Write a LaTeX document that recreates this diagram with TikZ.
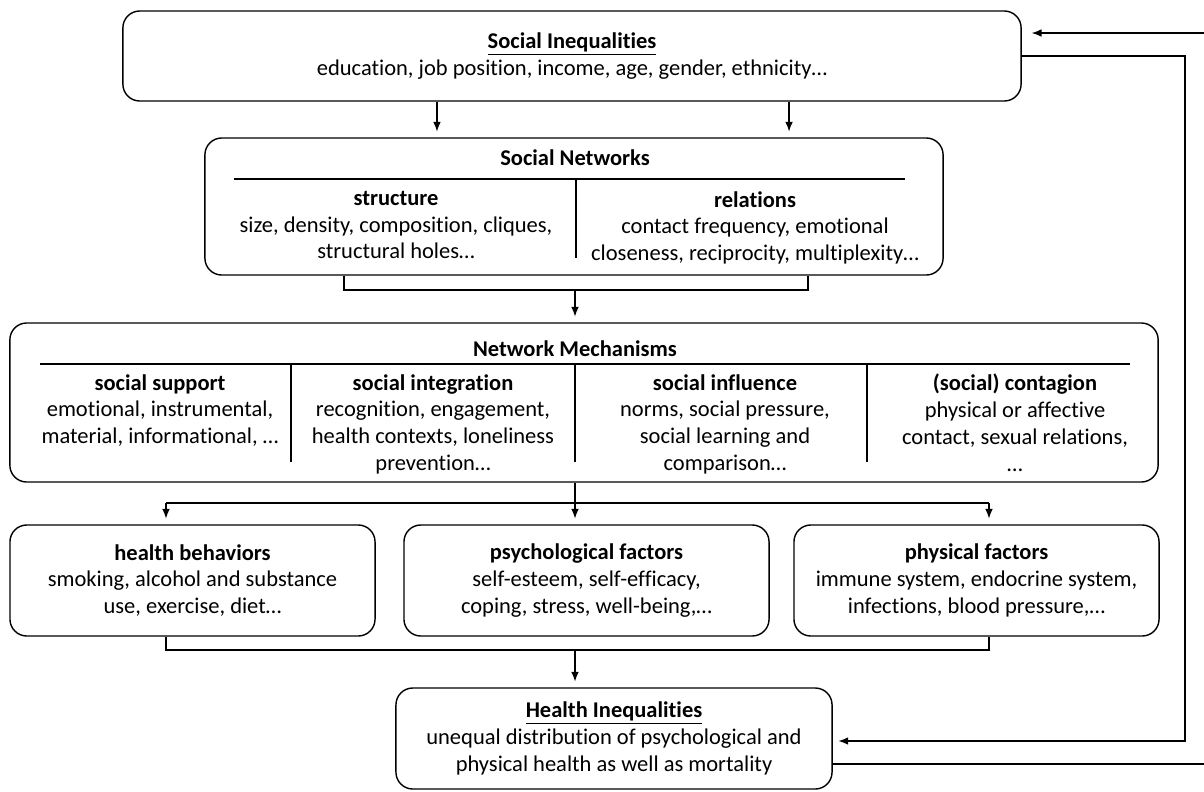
\documentclass[tikz,border=0pt]{standalone}
\usepackage{fontspec}
\setmainfont{Carlito}[Ligatures=NoCommon]
\usetikzlibrary{arrows.meta,positioning}

\begin{document}
\begin{tikzpicture}[x=0.025cm,y=-0.025cm,font=\fontsize{16pt}{19pt}\selectfont]%
        \tikzstyle{box} = [draw, rounded corners=12pt, align=center, line width=1pt, inner sep=0pt]
        \tikzstyle{cell} = [align=center, inner sep=0pt, anchor=north]
        \tikzstyle{head} = [font=\fontsize{16pt}{19pt}\selectfont\bfseries, inner sep=0pt]
        \tikzstyle{line} = [line width=1pt]
        \tikzstyle{link} = [-{Latex[length=7pt,width=5.5pt]}, line width=1pt, shorten >=4pt]

        \useasboundingbox (0,0) rectangle (1204,791);

        % boxes
        \node[box, minimum width=22.45cm, minimum height=2.25cm] (socineq) at (572,56)
          {\underline{\textbf{Social Inequalities}}\\education, job position, income, age, gender, ethnicity…};
        \node[box, minimum width=18.45cm, minimum height=3.425cm] (socnet) at (574,206.5) {};
        \node[box, minimum width=28.7cm, minimum height=3.975cm] (mech) at (584,402.5) {};
        \node[box, minimum width=9.125cm, minimum height=2.775cm] (behav) at (192.5,580.5)
          {\textbf{health behaviors}\\smoking, alcohol and substance\\use, exercise, diet…};
        \node[box, minimum width=9.125cm, minimum height=2.775cm] (psych) at (586.5,580.5)
          {\textbf{psychological factors}\\self-esteem, self-efficacy,\\coping, stress, well-being,…};
        \node[box, minimum width=9.125cm, minimum height=2.775cm] (phys) at (976.5,580.5)
          {\textbf{physical factors}\\immune system, endocrine system,\\infections, blood pressure,…};
        \node[box, minimum width=10.9cm, minimum height=2.525cm] (health) at (614,738.5)
          {\underline{\textbf{Health Inequalities}}\\unequal distribution of psychological and\\physical health as well as mortality};

        % social networks
        \node[head] (nettitle) at (575,158) {Social Networks};
        \draw[line] (234,179) -- (905,179);
        \draw[line] (576,179) -- (576,258);
        \node[cell] (structure) at (396,191) {\textbf{structure}\\size, density, composition, cliques,\\structural holes…};
        \node[cell] (relations) at (755,191) {\textbf{relations}\\contact frequency, emotional\\closeness, reciprocity, multiplexity…};

        % network mechanisms
        \node[head] (mechtitle) at (575,349) {Network Mechanisms};
        \draw[line] (40,364) -- (1130,364);
        \foreach \x in {291, 575, 867}{
          \draw[line] (\x,364) -- (\x,462);
        }
        \node[cell] (support) at (160,374) {\textbf{social support}\\emotional, instrumental,\\material, informational, …};
        \node[cell] (integration) at (433,374) {\textbf{social integration}\\recognition, engagement,\\health contexts, loneliness\\prevention…};
        \node[cell] (influence) at (725,374) {\textbf{social influence}\\norms, social pressure,\\social learning and\\comparison…};
        \node[cell] (contagion) at (1015,374) {\textbf{(social) contagion}\\physical or affective\\contact, sexual relations,\\…};

        % connectors
        \foreach \dx in {-3.375cm, 5.425cm}{
          \draw[link] ([xshift=\dx]socineq.south) -- ([xshift=\dx]socineq.south |- socnet.north);
        }

        \coordinate (netjoin) at (575,290);
        \draw[line] ([xshift=-5.75cm]socnet.south) |- (netjoin) -| ([xshift=5.85cm]socnet.south);
        \draw[link] (netjoin) -- (mech.north -| netjoin);

        \coordinate (split) at (575,503);
        \coordinate (splitl) at (166,503);
        \coordinate (splitr) at (989,503);
        \draw[line] (mech.south -| split) -- (split);
        \draw[line] (splitl) -- (splitr);
        \draw[link] (split) -- (psych.north -| split);
        \draw[link] (splitl) -- (behav.north -| splitl);
        \draw[link] (splitr) -- (phys.north -| splitr);

        \coordinate (merge) at (575,650);
        \draw[line] (behav.south -| splitl) |- (merge) -| (phys.south -| splitr);
        \draw[link] (merge) -- (health.north -| merge);

        % feedback
        \coordinate (loopin) at (1185,741);
        \draw[link] (socineq.east) -| (loopin) -- (health.east |- loopin);
        \coordinate (loopoutlow) at (1220,764);
        \coordinate (loopouthigh) at (1220,33);
        \draw[link, shorten >=7pt] (health.east |- loopoutlow) -- (loopoutlow) -- (loopouthigh) -- (socineq.east |- loopouthigh);
      \end{tikzpicture}
\end{document}
